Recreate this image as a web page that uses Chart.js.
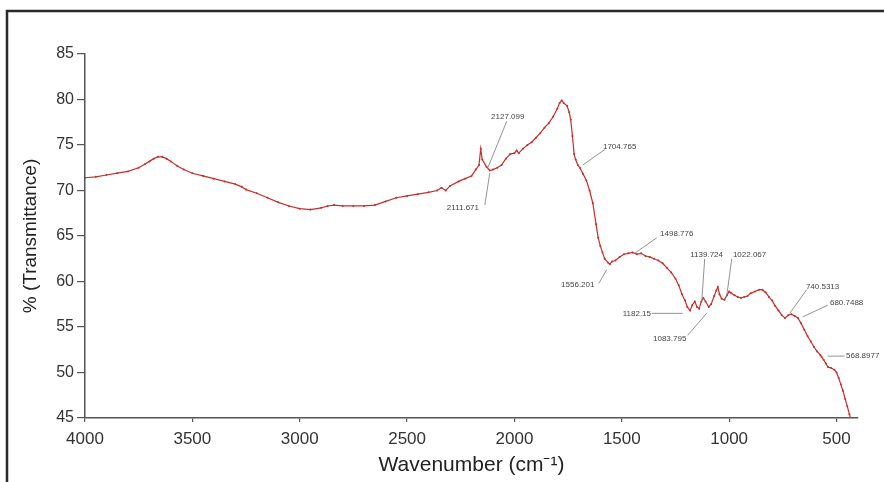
<!DOCTYPE html>
<html>
<head>
<meta charset="utf-8">
<script src="https://cdn.jsdelivr.net/npm/chart.js@4.4.1/dist/chart.umd.min.js"></script>
<style>
  html, body { margin: 0; padding: 0; background: #fff; }
  #wrap { width: 884px; height: 482px; }
</style>
</head>
<body>
<div id="wrap"><canvas id="myChart"></canvas></div>
<script>
// FTIR spectrum (cm-1 vs % transmittance)
var wavenumber = [
  4000, 3950, 3900, 3850, 3800, 3750, 3720, 3700, 3680, 3660, 3640, 3620, 3600, 3570, 3540,
  3500, 3450, 3400, 3350, 3300, 3270, 3250, 3200, 3150, 3100, 3050, 3000, 2950, 2900, 2870,
  2840, 2800, 2750, 2700, 2650, 2600, 2550, 2500, 2450, 2400, 2360, 2340, 2320, 2300, 2260,
  2230, 2200, 2180, 2165, 2157, 2150, 2130, 2115, 2100, 2080, 2060, 2040, 2020, 2000, 1990,
  1980, 1960, 1940, 1920, 1900, 1880, 1860, 1840, 1820, 1800, 1790, 1780, 1770, 1755, 1745,
  1738, 1730, 1722, 1715, 1705, 1695, 1680, 1665, 1650, 1635, 1620, 1610, 1600, 1590, 1580,
  1565, 1556, 1545, 1530, 1510, 1490, 1470, 1450, 1430, 1410, 1390, 1370, 1350, 1330, 1310,
  1290, 1270, 1250, 1235, 1220, 1205, 1195, 1182, 1172, 1160, 1150, 1140, 1130, 1120, 1110,
  1095, 1084, 1070, 1060, 1053, 1045, 1035, 1022, 1010, 1000, 990, 975, 960, 945, 930,
  915, 900, 880, 860, 845, 830, 815, 800, 785, 770, 755, 740, 725, 710, 695,
  680, 665, 650, 635, 620, 605, 590, 575, 569, 560, 550, 540, 525, 510, 500,
  490, 480, 470, 460, 450, 440, 435
]
var transmittance = [
  71.4, 71.5, 71.7, 71.9, 72.1, 72.5, 72.9, 73.2, 73.5, 73.7, 73.7, 73.5, 73.2, 72.7, 72.3,
  71.9, 71.6, 71.3, 71.0, 70.7, 70.4, 70.1, 69.7, 69.2, 68.7, 68.3, 68.0, 67.9, 68.1, 68.3,
  68.4, 68.3, 68.3, 68.3, 68.4, 68.8, 69.2, 69.4, 69.6, 69.8, 70.0, 70.3, 70.0, 70.5, 71.0,
  71.3, 71.6, 72.3, 72.8, 74.6, 73.4, 72.6, 72.2, 72.3, 72.5, 72.8, 73.5, 74.0, 74.1, 74.4,
  74.1, 74.6, 75.0, 75.3, 75.8, 76.3, 76.9, 77.4, 78.1, 79.0, 79.6, 79.9, 79.6, 79.3, 78.6,
  77.8, 76.0, 74.0, 73.4, 72.8, 72.5, 71.8, 71.1, 70.0, 68.6, 66.3, 64.8, 63.9, 63.2, 62.5,
  62.1, 61.9, 62.2, 62.3, 62.7, 63.0, 63.1, 63.2, 63.0, 63.1, 62.8, 62.7, 62.5, 62.3, 62.0,
  61.5, 61.0, 60.3, 59.6, 58.6, 57.9, 57.2, 56.8, 57.4, 57.8, 57.2, 57.0, 57.8, 58.2, 57.8,
  57.2, 57.5, 58.4, 59.0, 59.4, 58.6, 58.1, 58.0, 58.5, 58.9, 58.7, 58.5, 58.3, 58.2, 58.3,
  58.4, 58.7, 58.9, 59.1, 59.1, 58.8, 58.3, 57.9, 57.3, 56.8, 56.3, 56.0, 56.3, 56.4, 56.2,
  56.0, 55.4, 54.7, 54.0, 53.4, 52.8, 52.3, 51.9, 51.7, 51.4, 51.0, 50.6, 50.5, 50.3, 50.0,
  49.4, 48.7, 48.0, 47.1, 46.3, 45.4, 45.0
]

var xTicks = [500, 1000, 1500, 2000, 2500, 3000, 3500, 4000]
var yTicks = [45, 50, 55, 60, 65, 70, 75, 80, 85]

var peakLabels = ['2127.099', '2111.671', '1704.765', '1498.776', '1556.201', '1139.724',
  '1022.067', '1182.15', '1083.795', '740.5313', '680.7488', '568.8977']

// where each peak label sits, in axis units: [textX, textY, lineFromX, lineFromY, lineToX, lineToY]
var labelPlacement = [
  [2031, 78.1, 2036, 77.6, 2124, 72.5],
  [2240, 68.1, 2138, 68.4, 2115, 71.9],
  [1510, 74.8, 1579, 74.5, 1682, 72.8],
  [1244, 65.2, 1337, 64.8, 1440, 63.1],
  [1705, 59.6, 1607, 59.8, 1570, 61.3],
  [1105, 62.9, 1114, 62.5, 1128, 57.7],
  [905, 62.9, 988, 62.5, 1012, 58.3],
  [1430, 56.5, 1361, 56.5, 1216, 56.5],
  [1277, 53.7, 1193, 54.1, 1105, 56.5],
  [565, 59.4, 639, 59.1, 718, 56.5],
  [453, 57.7, 541, 57.4, 658, 56.1],
  [378, 51.8, 541, 51.8, 462, 51.8]
]

var points = wavenumber.map(function (w, i) { return { x: w, y: transmittance[i] } })

var framePlugin = {
  id: 'frame',
  beforeDraw: function (chart) {
    var c = chart.ctx
    c.save()
    c.fillStyle = '#fff'
    c.fillRect(0, 0, chart.width, chart.height)
    c.strokeStyle = '#2a2a2a'
    c.lineWidth = 2.5
    c.beginPath()
    c.moveTo(7, chart.height)
    c.lineTo(7, 11)
    c.lineTo(chart.width, 11)
    c.stroke()
    c.restore()
  }
}

var peakPlugin = {
  id: 'peaks',
  afterDatasetsDraw: function (chart) {
    var c = chart.ctx
    var sx = chart.scales.x
    var sy = chart.scales.y
    c.save()
    c.strokeStyle = '#777'
    c.lineWidth = 0.8
    c.fillStyle = '#444'
    c.font = '8px "Liberation Sans", Arial, sans-serif'
    c.textAlign = 'center'
    c.textBaseline = 'middle'
    peakLabels.forEach(function (txt, i) {
      var p = labelPlacement[i]
      c.beginPath()
      c.moveTo(sx.getPixelForValue(p[2]), sy.getPixelForValue(p[3]))
      c.lineTo(sx.getPixelForValue(p[4]), sy.getPixelForValue(p[5]))
      c.stroke()
      c.fillText(txt, sx.getPixelForValue(p[0]), sy.getPixelForValue(p[1]))
    })
    c.restore()
  }
}

const ctx = document.getElementById('myChart')

new Chart(ctx, {
  type: 'scatter',
  data: {
    datasets: [{
      data: points,
      showLine: true,
      borderColor: '#c62f2c',
      borderWidth: 1.2,
      pointRadius: 1,
      pointBackgroundColor: '#c62f2c',
      pointBorderWidth: 0,
      tension: 0
    }]
  },
  options: {
    responsive: true,
    maintainAspectRatio: false,
    animation: false,
    layout: { padding: { top: 54, right: 26, bottom: 0, left: 0 } },
    plugins: {
      legend: { display: false },
      tooltip: { enabled: false }
    },
    scales: {
      x: {
        type: 'linear',
        min: 400,
        max: 4000,
        reverse: true,
        afterBuildTicks: function (s) { s.ticks = xTicks.map(function (v) { return { value: v } }) },
        afterFit: function (s) { s.height = 64 },
        grid: { drawOnChartArea: false, drawTicks: true, tickLength: 4, color: '#555', lineWidth: 1.2 },
        border: { color: '#555', width: 1.5 },
        ticks: {
          color: '#333',
          padding: 7,
          maxRotation: 0,
          callback: function (v) { return String(v) },
          font: { family: '"Liberation Sans", Arial, sans-serif', size: 17 }
        },
        title: {
          display: true,
          text: 'Wavenumber (cm⁻¹)',
          color: '#222',
          font: { family: '"Liberation Sans", Arial, sans-serif', size: 21 },
          padding: { top: 0, bottom: 4 }
        }
      },
      y: {
        min: 45,
        max: 85,
        afterBuildTicks: function (s) { s.ticks = yTicks.map(function (v) { return { value: v } }) },
        afterFit: function (s) { s.width = 85 },
        grid: { drawOnChartArea: false, drawTicks: true, tickLength: 8, color: '#555', lineWidth: 1.2 },
        border: { color: '#555', width: 1.5 },
        ticks: {
          color: '#333',
          padding: 3,
          callback: function (v) { return String(v) },
          font: { family: '"Liberation Sans", Arial, sans-serif', size: 16 }
        },
        title: {
          display: true,
          text: '% (Transmittance)',
          color: '#222',
          font: { family: '"Liberation Sans", Arial, sans-serif', size: 19 },
          padding: { top: 19, bottom: 0 }
        }
      }
    }
  },
  plugins: [framePlugin, peakPlugin]
})
</script>
</body>
</html>
